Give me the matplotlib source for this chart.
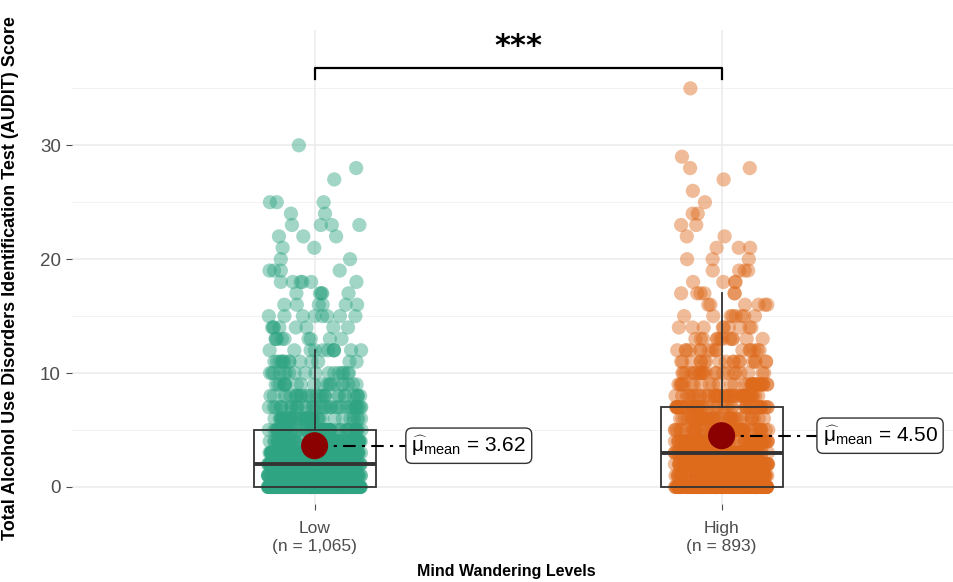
import numpy as np
import matplotlib
matplotlib.use("Agg")
import matplotlib.pyplot as plt

plt.rcParams['font.family'] = ['Liberation Sans', 'DejaVu Sans']
plt.rcParams['mathtext.fontset'] = 'custom'
plt.rcParams['mathtext.rm'] = 'Liberation Sans'
plt.rcParams['mathtext.it'] = 'Liberation Sans'
plt.rcParams['mathtext.bf'] = 'Liberation Sans:bold'

# ---------------- data ----------------
groups = ["Low", "High"]
group_n = [1065, 893]
tick_labels = ["Low\n(n = 1,065)", "High\n(n = 893)"]
scores = list(range(0, 36))
# counts of participants per AUDIT score (0..35)
low_counts = [295, 165, 135, 105, 75, 58, 42, 36, 28, 20, 17, 13, 11, 9, 8, 8,
              6, 5, 6, 4, 2, 2, 3, 4, 2, 3, 0, 1, 1, 0, 1, 0, 0, 0, 0, 0]
high_counts = [234, 90, 89, 80, 65, 55, 38, 45, 42, 31, 22, 18, 16, 12, 9, 8,
               6, 6, 4, 4, 3, 3, 2, 2, 2, 1, 1, 1, 2, 1, 0, 0, 0, 0, 0, 1]
colors = ["#2FA482", "#DE6A1C"]
signif_label = "***"
x_title = "Mind Wandering Levels"
y_title = "Total Alcohol Use Disorders Identification Test (AUDIT) Score"
y_ticks = [0, 10, 20, 30]
y_minor = [5, 15, 25, 35]
bracket_y = 36.75
label_x_offset = [0.238, 0.248]

# ---------------- figure ----------------
fig = plt.figure(figsize=(9.54, 5.82), dpi=100)
ax = fig.add_axes([0.0755, 0.134, 0.9245, 0.814])
ax.set_xlim(0.404, 2.571)
ax.set_ylim(-1.5, 40.1)

for y in y_ticks:
    ax.axhline(y, color="#EBEBEB", lw=1.1, zorder=0)
for y in y_minor:
    ax.axhline(y, color="#F2F2F2", lw=0.7, zorder=0)
for x in [1, 2]:
    ax.axvline(x, color="#EBEBEB", lw=1.1, zorder=0)

all_data = []
for gi, counts in enumerate([low_counts, high_counts]):
    vals = np.repeat(np.array(scores), counts)
    all_data.append(vals)
    k = np.arange(len(vals), dtype=float)
    h = np.sin(k * 12.9898 + gi * 78.233 + 1.0) * 43758.5453
    offs = (h - np.floor(h) - 0.5) * 0.23
    ax.scatter(gi + 1 + offs, vals, s=105, color=colors[gi], alpha=0.45,
               edgecolors="none", zorder=2)

bp = ax.boxplot(all_data, positions=[1, 2], widths=0.30, whis=1.5,
                patch_artist=True, showfliers=False, showcaps=False,
                manage_ticks=False, zorder=3)
for b in bp['boxes']:
    b.set_facecolor("none")
    b.set_edgecolor("#333333")
    b.set_linewidth(1.3)
for w in bp['whiskers']:
    w.set_color("#333333")
    w.set_linewidth(1.3)
for m in bp['medians']:
    m.set_color("#333333")
    m.set_linewidth(2.8)

for gi, vals in enumerate(all_data):
    mu = vals.mean()
    x = gi + 1
    lx = x + label_x_offset[gi]
    ax.plot([x, lx], [mu, mu], color="black", lw=1.5, ls=(0, (6, 3, 1.5, 3)), zorder=4)
    ax.scatter([x], [mu], s=380, color="#8B0000", edgecolors="none", zorder=5)
    ax.text(lx, mu, r"$\widehat{\mu}_{\mathrm{mean}}$ = " + f"{mu:.2f}",
            fontsize=15, ha="left", va="center", color="black", zorder=6,
            bbox=dict(boxstyle="round,pad=0.27,rounding_size=0.3",
                      fc="white", ec="#333333", lw=1.0))

# significance bracket
ax.plot([1, 1, 2, 2], [bracket_y - 0.95, bracket_y, bracket_y, bracket_y - 0.95],
        color="black", lw=1.6, zorder=4)
ax.text(1.5, 38.7, signif_label, ha="center", va="center",
        fontsize=22, fontweight="bold", family="DejaVu Sans")

ax.set_xticks([1, 2])
ax.set_xticklabels(tick_labels, fontsize=12.5, color="#4D4D4D", linespacing=1.3)
ax.set_yticks(y_ticks)
ax.set_yticklabels([str(v) for v in y_ticks], fontsize=13.5, color="#4D4D4D")
ax.tick_params(axis="both", length=4, color="#4D4D4D", width=0.8)
ax.tick_params(axis="x", pad=8)
ax.tick_params(axis="y", pad=4)
for s in ax.spines.values():
    s.set_visible(False)
ax.set_xlabel(x_title, fontsize=11.5, fontweight="bold")
ax.xaxis.set_label_coords(0.492, -0.127)
ax.set_ylabel(y_title, fontsize=13, fontweight="bold")
ax.yaxis.set_label_coords(-0.060, 0.477)

fig.savefig("out.png", dpi=100)
